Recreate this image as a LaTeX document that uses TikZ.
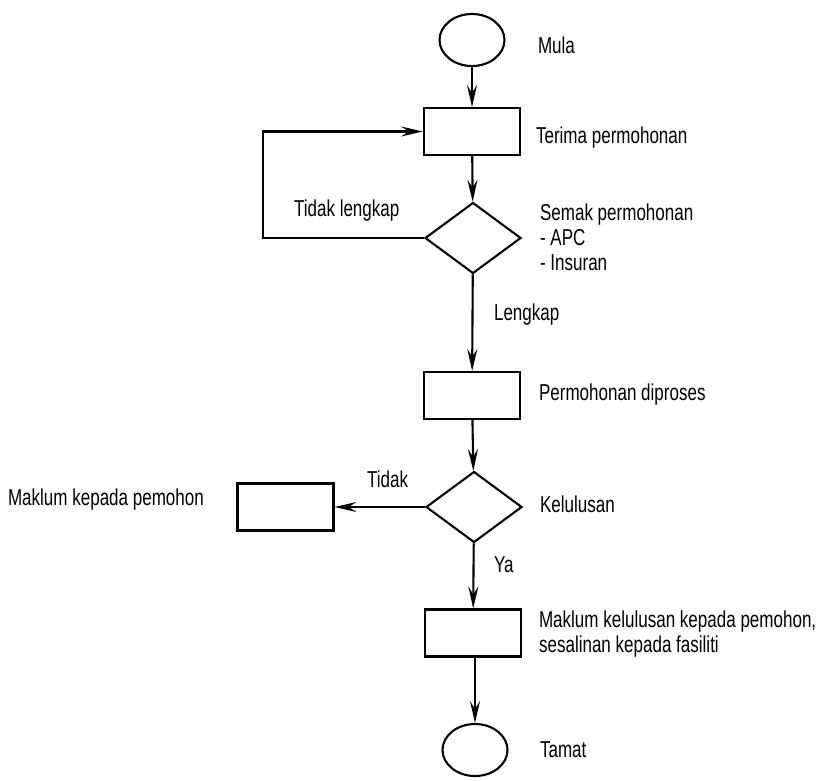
\documentclass[tikz,border=0pt]{standalone}
\usepackage{fontspec}
\setmainfont{Liberation Sans}[FakeStretch=0.74]
\usetikzlibrary{shapes.geometric,arrows.meta}
\begin{document}
\begin{tikzpicture}[x=1pt,y=-1pt,
  line width=2.1pt,
  term/.style={draw,ellipse,inner sep=0pt,minimum width=65pt,minimum height=52pt},
  proc/.style={draw,rectangle,inner sep=0pt,minimum width=96pt,minimum height=47pt},
  dec/.style={draw,diamond,inner sep=0pt,minimum width=96pt,minimum height=71pt},
  arr/.style={-{Stealth[length=22pt,width=10pt,inset=8pt]}},
  lbl/.style={font=\fontsize{23}{25}\selectfont,inner sep=0pt,anchor=base west}]
\useasboundingbox (0,0) rectangle (819,780);
\node[term] (start) at (472,40) {};
\node[proc] (b1) at (472,131.5) {};
\node[dec] (d1) at (473,238) {};
\node[proc] (b2) at (472,395.5) {};
\node[dec] (d2) at (474,507) {};
\node[proc] (b3) at (285.5,507) {};
\node[proc] (b4) at (473,633) {};
\node[term] (end) at (475,750) {};
\coordinate (loopc) at (263,238);

\draw[arr] (start) -- (b1);
\draw[arr] (b1) -- (d1);
\draw[arr] (d1.west) -- (loopc) |- (b1.west);
\draw[arr] (d1) -- (b2);
\draw[arr] (b2) -- (d2);
\draw[arr] (d2.west) -- (b3.east);
\draw[arr] (d2) -- (b4);
\draw[arr] (b4.south -| end) -- (end);

\node[lbl] (t1) at (537,53) {Mula};
\node[lbl] (t2) at (535,143) {Terima permohonan};
\node[lbl] (t3a) at (539,220) {Semak permohonan};
\node[lbl] (t3b) at (539,245) {- APC};
\node[lbl] (t3c) at (539,270) {- Insuran};
\node[lbl] (t4) at (293,216) {Tidak lengkap};
\node[lbl] (t5) at (493,320) {Lengkap};
\node[lbl] (t6) at (538,400) {Permohonan diproses};
\node[lbl] (t7) at (366,487) {Tidak};
\node[lbl] (t8) at (7,505) {Maklum kepada pemohon};
\node[lbl] (t9) at (539,512) {Kelulusan};
\node[lbl] (t10) at (493,572) {Ya};
\node[lbl] (t11a) at (538,627) {Maklum kelulusan kepada pemohon,};
\node[lbl] (t11b) at (538,652) {sesalinan kepada fasiliti};
\node[lbl] (t12) at (539,757) {Tamat};
\end{tikzpicture}
\end{document}
